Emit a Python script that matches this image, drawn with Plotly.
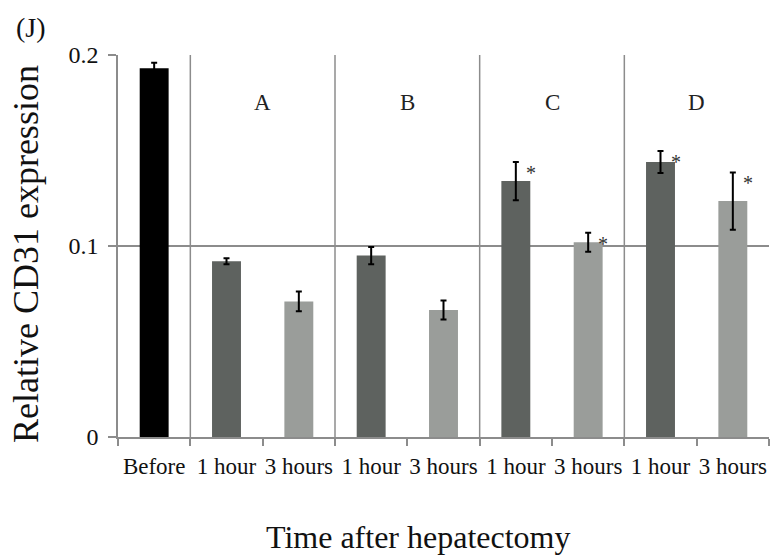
import plotly.graph_objects as go

categories = ["Before", "1 hour", "3 hours", "1 hour", "3 hours",
              "1 hour", "3 hours", "1 hour", "3 hours"]
groups = ["", "A", "A", "B", "B", "C", "C", "D", "D"]
values = [0.193, 0.092, 0.071, 0.095, 0.0665, 0.134, 0.102, 0.144, 0.1235]
errors = [0.003, 0.0016, 0.0052, 0.0045, 0.005, 0.010, 0.005, 0.0058, 0.015]
significant = [False, False, False, False, False, True, True, True, True]
y_ticks = [0, 0.1, 0.2]
y_ticktext = ["0", "0.1", "0.2"]

bar_colors = {"Before": "#000000", "1 hour": "#5e625f", "3 hours": "#9a9d9a"}

FONT = "Liberation Serif"
GRID = "#8c8c8c"

x = list(range(len(categories)))
fig = go.Figure()
fig.add_trace(go.Bar(
    x=x, y=values,
    width=0.4,
    marker=dict(color=[bar_colors[c] for c in categories], line=dict(width=0)),
    error_y=dict(type="data", array=errors, visible=True,
                 color="#000000", thickness=2, width=3),
    showlegend=False,
))

shapes = []
annotations = []
# group separators and group labels
for i in range(1, len(groups)):
    if groups[i] != groups[i - 1]:
        shapes.append(dict(type="line", xref="x", yref="y",
                           x0=i - 0.5, x1=i - 0.5, y0=0, y1=max(y_ticks),
                           line=dict(color=GRID, width=1.5)))
seen = []
for g in groups:
    if g and g not in seen:
        seen.append(g)
for g in seen:
    idx = [i for i, gg in enumerate(groups) if gg == g]
    annotations.append(dict(x=sum(idx) / len(idx), y=0.175, xref="x", yref="y",
                            text=g, showarrow=False,
                            font=dict(family=FONT, size=23, color="#222")))
# significance markers
for i, (v, e, s) in enumerate(zip(values, errors, significant)):
    if s:
        annotations.append(dict(x=i, y=v + e, xref="x", yref="y", text="*",
                                showarrow=False, xanchor="left", yanchor="top",
                                xshift=8, yshift=2,
                                font=dict(family=FONT, size=20, color="#333")))
# panel label
annotations.append(dict(x=-0.16, y=1.073, xref="x domain", yref="y domain",
                        text="(J)", showarrow=False, xanchor="left", yanchor="middle",
                        font=dict(family=FONT, size=28, color="#111")))
# axis titles
annotations.append(dict(x=0.462, y=-0.262, xref="x domain", yref="y domain",
                        text="Time after hepatectomy", showarrow=False,
                        xanchor="center", yanchor="middle",
                        font=dict(family=FONT, size=32, color="#111")))
annotations.append(dict(x=-0.1413, y=0.479, xref="x domain", yref="y domain",
                        text="Relative CD31 expression", showarrow=False,
                        textangle=-90, xanchor="center", yanchor="middle",
                        font=dict(family=FONT, size=36, color="#111")))

fig.update_layout(
    width=773, height=557,
    margin=dict(l=118, r=4, t=55, b=120),
    paper_bgcolor="white", plot_bgcolor="white",
    font=dict(family=FONT, color="#111"),
    shapes=shapes, annotations=annotations,
    bargap=0.6,
)
fig.update_xaxes(
    range=[-0.5, len(categories) - 0.5],
    tickmode="array", tickvals=x, ticktext=categories, tickangle=0,
    tickfont=dict(family=FONT, size=23, color="#111"),
    ticks="outside", ticklen=8, tickcolor="rgba(0,0,0,0)",
    minor=dict(tickmode="array", tickvals=[i - 0.5 for i in range(len(categories) + 1)],
               ticks="outside", ticklen=7, tickcolor=GRID, tickwidth=1.5),
    showline=True, linecolor=GRID, linewidth=1.5,
    showgrid=False, zeroline=False,
)
fig.update_yaxes(
    range=[0, 0.2],
    tickmode="array", tickvals=y_ticks, ticktext=y_ticktext,
    tickfont=dict(family=FONT, size=24, color="#111"),
    ticks="outside", ticklen=8, tickcolor=GRID, tickwidth=1.5,
    ticklabelstandoff=5,
    showline=True, linecolor=GRID, linewidth=1.5,
    showgrid=True, gridcolor=GRID, gridwidth=1.5, zeroline=False,
)

fig.write_html("out.html", config={"displayModeBar": False},
               post_script="document.body.style.margin='0px';")
